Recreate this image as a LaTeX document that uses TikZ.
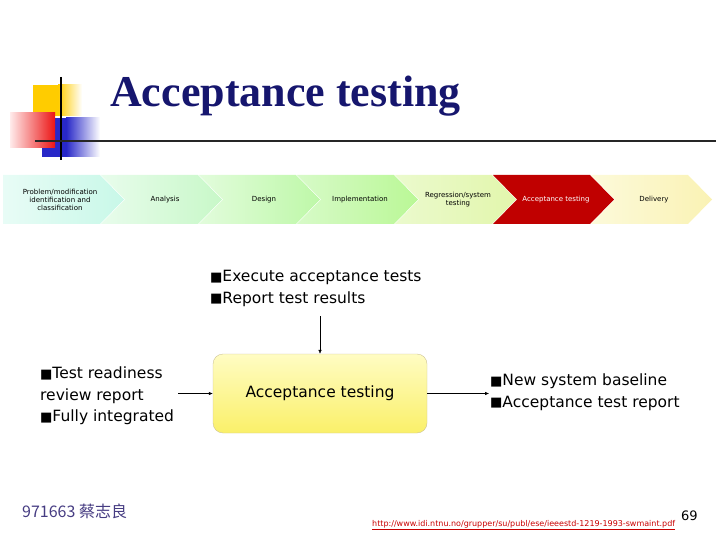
\documentclass[tikz,border=0pt]{standalone}
\usepackage{fontspec}
\setmainfont{DejaVu Sans}
\newfontfamily\titlefont{Liberation Serif}
\newfontfamily\cjkfont{Noto Sans CJK TC}
\usetikzlibrary{arrows.meta, positioning}

\definecolor{titleblue}{RGB}{22,22,110}
\definecolor{logogold}{RGB}{255,204,0}
\definecolor{logored}{RGB}{235,20,20}
\definecolor{logoblue}{RGB}{40,40,200}
\definecolor{stagered}{RGB}{192,0,0}
\definecolor{boxtop}{RGB}{255,252,195}
\definecolor{boxbottom}{RGB}{250,240,105}
\definecolor{boxedge}{RGB}{205,195,150}
\definecolor{footblue}{RGB}{70,60,130}
\definecolor{linkred}{RGB}{200,0,0}

\newcommand{\bul}{{\fontsize{13}{13}\selectfont\raisebox{0.3pt}{■}}}

\begin{document}
\begin{tikzpicture}[
  x=1pt, y=-1pt,
  phase/.style={font=\fontsize{7}{8}\selectfont, align=center, inner sep=0pt},
  note/.style={font=\fontsize{15.5}{21.5}\selectfont, align=left, anchor=west, inner sep=0pt},
  process/.style={rectangle, rounded corners=10pt, draw=boxedge, top color=boxtop, bottom color=boxbottom, minimum width=214pt, minimum height=79pt, font=\fontsize{15.5}{18}\selectfont},
  arrow/.style={-{Latex[length=4pt, width=3.5pt]}, thin}
]
\useasboundingbox (0,0) rectangle (720,540);

% Logo squares and rules behind the title.
\fill[logogold] (33,85) rectangle (58,116);
\shade[left color=logogold, right color=white] (58,85) rectangle (82,116);
\fill[logoblue] (42,118) rectangle (66,157);
\shade[left color=logoblue, right color=white] (66,118) rectangle (100,157);
\shade[left color=red!8, right color=logored] (10,113) rectangle (55,148);
\draw[line width=1.5pt] (61,77) -- (61,160);
\draw[line width=2pt, black!85] (35,141) -- (716,141);

\node[font=\titlefont\bfseries\fontsize{44}{44}\selectfont, text=titleblue, anchor=base west, inner sep=0pt] (Title) at (110,107) {Acceptance testing};

% Process band: seven chevrons.
\shade[left color={rgb,255:red,232;green,252;blue,246}, right color={rgb,255:red,200;green,248;blue,232}]
  (3,175) -- (100,175) -- (124,199.5) -- (100,224) -- (3,224) -- cycle;
\shade[left color={rgb,255:red,232;green,252;blue,236}, right color={rgb,255:red,200;green,248;blue,200}]
  (101,175) -- (198,175) -- (222,199.5) -- (198,224) -- (101,224) -- (125,199.5) -- cycle;
\shade[left color={rgb,255:red,226;green,252;blue,220}, right color={rgb,255:red,190;green,248;blue,168}]
  (199,175) -- (296,175) -- (320,199.5) -- (296,224) -- (199,224) -- (223,199.5) -- cycle;
\shade[left color={rgb,255:red,215;green,250;blue,200}, right color={rgb,255:red,186;green,248;blue,150}]
  (297,175) -- (394,175) -- (418,199.5) -- (394,224) -- (297,224) -- (321,199.5) -- cycle;
\shade[left color={rgb,255:red,235;green,250;blue,205}, right color={rgb,255:red,226;green,246;blue,172}]
  (395,175) -- (492,175) -- (516,199.5) -- (492,224) -- (395,224) -- (419,199.5) -- cycle;
\fill[stagered]
  (493,175) -- (590,175) -- (614,199.5) -- (590,224) -- (493,224) -- (517,199.5) -- cycle;
\shade[left color={rgb,255:red,252;green,250;blue,218}, right color={rgb,255:red,250;green,242;blue,180}]
  (591,175) -- (688,175) -- (712,199.5) -- (688,224) -- (591,224) -- (615,199.5) -- cycle;

\node[phase] (Problem) at (60,199.5) {Problem/modification\\identification and\\classification};
\node[phase] (Analysis) at (165,199.5) {Analysis};
\node[phase] (Design) at (264,199.5) {Design};
\node[phase] (Implementation) at (360,199.5) {Implementation};
\node[phase] (Regression) at (458,199.5) {Regression/system\\testing};
\node[phase, text=white] (AcceptPhase) at (556,199.5) {Acceptance testing};
\node[phase] (Delivery) at (654,199.5) {Delivery};

% Inputs, process and outputs.
\node[note] (Controls) at (210,288.5) {\bul Execute acceptance tests\\\bul Report test results};
\node[note] (Inputs) at (40,396) {\bul Test readiness\\review report\\\bul Fully integrated};
\node[note] (Outputs) at (490,392) {\bul New system baseline\\\bul Acceptance test report};
\node[process] (AcceptBox) at (320,393.5) {Acceptance testing};

\coordinate (ctrlEnd) at (320,316);
\coordinate (inEnd) at (178,393.5);
\coordinate (outEnd) at (489,393.5);
\draw[arrow] (ctrlEnd) -- (AcceptBox.north);
\draw[arrow] (inEnd) -- (AcceptBox.west);
\draw[arrow] (AcceptBox.east) -- (outEnd);

% Footer.
\node[font=\cjkfont\fontsize{16}{16}\selectfont, text=footblue, anchor=west, inner sep=0pt] (Author) at (22,511) {971663 蔡志良};
\node[font=\fontsize{8}{8}\selectfont, text=linkred, anchor=base west, inner sep=0pt] (Link) at (372,526) {\underline{http://www.idi.ntnu.no/grupper/su/publ/ese/ieeestd-1219-1993-swmaint.pdf}};
\node[font=\fontsize{13}{13}\selectfont, anchor=base west, inner sep=0pt] (PageNo) at (681,520) {69};
\end{tikzpicture}
\end{document}
